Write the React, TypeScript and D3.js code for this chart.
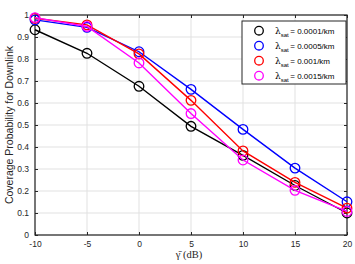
import { useEffect, useRef } from "react";
import * as d3 from "d3";

const snrDb = [-10, -5, 0, 5, 10, 15, 20];
const cov0001 = [0.933, 0.826, 0.676, 0.494, 0.362, 0.225, 0.1];
const cov0005 = [0.978, 0.944, 0.833, 0.662, 0.48, 0.304, 0.151];
const cov001 = [0.985, 0.955, 0.823, 0.612, 0.382, 0.239, 0.122];
const cov0015 = [0.988, 0.948, 0.782, 0.552, 0.341, 0.203, 0.107];
const seriesNames = ["0.0001/km", "0.0005/km", "0.001/km", "0.0015/km"];
const seriesColors = ["#000000", "#0000ff", "#ff0000", "#ff00ff"];
const xTicks = [-10, -5, 0, 5, 10, 15, 20];
const yTicks = [0, 0.1, 0.2, 0.3, 0.4, 0.5, 0.6, 0.7, 0.8, 0.9, 1];

const W = 355;
const H = 264;
const M = { top: 15, right: 8, bottom: 29, left: 35 };
const FONT = "'Liberation Sans', Arial, Helvetica, sans-serif";

export default function App() {
  const svgRef = useRef<SVGSVGElement>(null);

  useEffect(() => {
    if (!svgRef.current) return;
    const root = d3.select(svgRef.current);
    root.selectAll("*").remove();

    const innerW = W - M.left - M.right;
    const innerH = H - M.top - M.bottom;
    const series = [cov0001, cov0005, cov001, cov0015];

    const x = d3.scaleLinear().domain([-10, 20]).range([0, innerW]);
    const y = d3.scaleLinear().domain([0, 1]).range([innerH, 0]);

    const svg = root.append("g").attr("transform", `translate(${M.left},${M.top})`);

    svg.append("rect").attr("width", innerW).attr("height", innerH).attr("fill", "#fff");

    // grid
    svg
      .append("g")
      .selectAll("line")
      .data(xTicks)
      .join("line")
      .attr("x1", (d) => x(d))
      .attr("x2", (d) => x(d))
      .attr("y1", 0)
      .attr("y2", innerH)
      .attr("stroke", "#e1e1e1")
      .attr("stroke-width", 1);
    svg
      .append("g")
      .selectAll("line")
      .data(yTicks)
      .join("line")
      .attr("x1", 0)
      .attr("x2", innerW)
      .attr("y1", (d) => y(d))
      .attr("y2", (d) => y(d))
      .attr("stroke", "#e1e1e1")
      .attr("stroke-width", 1);

    // axes (MATLAB style: inward ticks on all sides)
    const styleAxis = (g: d3.Selection<SVGGElement, unknown, null, undefined>) => {
      g.select(".domain").remove();
      g.selectAll("line").attr("stroke", "#262626");
      g.selectAll("text").attr("fill", "#262626").attr("font-size", 8.5).attr("font-family", FONT);
    };

    svg
      .append("g")
      .attr("transform", `translate(0,${innerH})`)
      .call(d3.axisBottom(x).tickValues(xTicks).tickSize(-3).tickPadding(6).tickFormat((d) => String(d)))
      .call(styleAxis);
    svg
      .append("g")
      .call(d3.axisTop(x).tickValues(xTicks).tickSize(-3).tickFormat(() => ""))
      .call(styleAxis);
    svg
      .append("g")
      .call(
        d3
          .axisLeft(y)
          .tickValues(yTicks)
          .tickSize(-3)
          .tickPadding(6)
          .tickFormat((d) => d3.format("~g")(d as number))
      )
      .call(styleAxis);
    svg
      .append("g")
      .attr("transform", `translate(${innerW},0)`)
      .call(d3.axisRight(y).tickValues(yTicks).tickSize(-3).tickFormat(() => ""))
      .call(styleAxis);

    svg
      .append("rect")
      .attr("width", innerW)
      .attr("height", innerH)
      .attr("fill", "none")
      .attr("stroke", "#262626")
      .attr("stroke-width", 1.2);

    // series
    const line = d3
      .line<number>()
      .x((_, i) => x(snrDb[i]))
      .y((d) => y(d));

    series.forEach((vals, si) => {
      svg
        .append("path")
        .datum(vals)
        .attr("d", line)
        .attr("fill", "none")
        .attr("stroke", seriesColors[si])
        .attr("stroke-width", 1.4);
      svg
        .append("g")
        .selectAll("circle")
        .data(vals)
        .join("circle")
        .attr("cx", (_, i) => x(snrDb[i]))
        .attr("cy", (d) => y(d))
        .attr("r", 4.8)
        .attr("fill", "none")
        .attr("stroke", seriesColors[si])
        .attr("stroke-width", 1.3);
    });

    // legend
    const lg = svg.append("g").attr("transform", `translate(${242 - M.left},${21 - M.top})`);
    lg.append("rect")
      .attr("width", 104)
      .attr("height", 63)
      .attr("fill", "#fff")
      .attr("stroke", "#262626")
      .attr("stroke-width", 1);
    seriesNames.forEach((name, i) => {
      const ry = 9.7 + i * 15;
      lg.append("circle")
        .attr("cx", 17)
        .attr("cy", ry)
        .attr("r", 4.3)
        .attr("fill", "none")
        .attr("stroke", seriesColors[i])
        .attr("stroke-width", 1.3);
      const t = lg
        .append("text")
        .attr("x", 33)
        .attr("y", ry + 3)
        .attr("font-size", 8)
        .attr("font-family", FONT)
        .attr("fill", "#000");
      t.append("tspan").attr("font-family", "'DejaVu Serif', serif").attr("font-size", 9).text("λ");
      t.append("tspan").attr("font-size", 6).attr("dy", 3).text("sat");
      t.append("tspan").attr("dy", -3).attr("dx", 1.5).text(`= ${name}`);
    });

    // labels
    root
      .append("text")
      .attr("transform", `translate(13,${M.top + innerH / 2}) rotate(-90)`)
      .attr("text-anchor", "middle")
      .attr("font-size", 10.5)
      .attr("font-family", FONT)
      .attr("fill", "#262626")
      .text("Coverage Probability for Downlink");
    root
      .append("text")
      .attr("x", M.left + innerW / 2 - 2)
      .attr("y", 258)
      .attr("text-anchor", "middle")
      .attr("font-size", 10.5)
      .attr("font-family", "'Liberation Serif', 'DejaVu Serif', serif")
      .attr("fill", "#262626")
      .text("γ\u0304 (dB)");
  }, []);

  return (
    <svg
      ref={svgRef}
      width={W}
      height={H}
      viewBox={`0 0 ${W} ${H}`}
      style={{ position: "absolute", left: 0, top: 0, background: "#fff" }}
    />
  );
}
